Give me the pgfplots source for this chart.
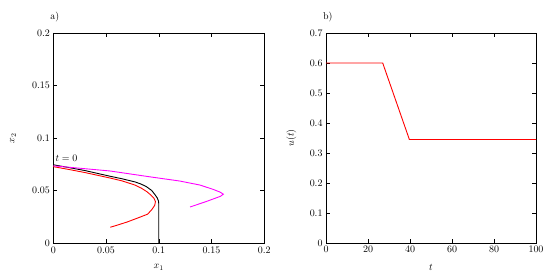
\documentclass[border=0pt]{standalone}
\usepackage{pgfplots}
\pgfplotsset{compat=1.18}
\definecolor{mag}{rgb}{1,0,1}
\begin{document}
\begin{tikzpicture}
\path[use as bounding box] (0,0) rectangle (552bp,279bp);
\pgfplotsset{every axis/.append style={scale only axis, axis line style={line width=0.8pt}, tick style={line width=0.6pt, black}, major tick length=4bp, minor tick num=0}}
\begin{axis}[at={(53.3bp,36bp)}, anchor=south west, width=211bp, height=210bp,
  xmin=0, xmax=0.2, ymin=0, ymax=0.2,
  xtick={0,0.05,0.1,0.15,0.2}, ytick={0,0.05,0.1,0.15,0.2},
  xticklabels={0,0.05,0.1,0.15,0.2}, yticklabels={0,0.05,0.1,0.15,0.2},
  xlabel={$x_1$}, ylabel={$x_2$},
  xlabel style={at={(0.5,0)}, anchor=north, yshift=-18bp},
  ylabel style={at={(0,0.5)}, anchor=south, yshift=34bp},
  clip=false]
\addplot[black, line width=0.9pt] coordinates {
(0,0.0745) (0.015,0.0718) (0.03,0.0690) (0.0537,0.0636) (0.065,0.0612) (0.0774,0.0582) (0.0835,0.0560) (0.0885,0.0535) (0.0933,0.0500) (0.0964,0.0460) (0.0985,0.0430) (0.0997,0.0400) (0.1,0.037) (0.1,0)};
\addplot[red, line width=0.9pt] coordinates {
(0,0.0727) (0.015,0.0700) (0.03,0.0671) (0.0537,0.0619) (0.065,0.0592) (0.0774,0.0552) (0.0835,0.0522) (0.0885,0.0490) (0.0925,0.0457) (0.0955,0.0425) (0.0968,0.0395) (0.0962,0.0360) (0.0935,0.0320) (0.0895,0.0275) (0.080,0.0238) (0.070,0.0200) (0.060,0.0168) (0.054,0.0150)};
\addplot[mag, line width=0.9pt] coordinates {
(0,0.0735) (0.0537,0.0686) (0.0917,0.0630) (0.12,0.0590) (0.139,0.0552) (0.1517,0.0510) (0.158,0.0485) (0.1612,0.0465) (0.1585,0.0445) (0.145,0.0395) (0.1296,0.0343)};
\node[anchor=south west, inner sep=0pt] at (axis cs:0.002,0.0775) {$t=0$};
\node[anchor=west, inner sep=0pt] at (rel axis cs:-0.015,1.075) {a)};
\end{axis}
\begin{axis}[at={(326bp,36bp)}, anchor=south west, width=210bp, height=210bp,
  xmin=0, xmax=100, ymin=0, ymax=0.7,
  xtick={0,20,40,60,80,100}, ytick={0,0.1,0.2,0.3,0.4,0.5,0.6,0.7},
  yticklabels={0,0.1,0.2,0.3,0.4,0.5,0.6,0.7},
  xlabel={$t$}, ylabel={$u(t)$},
  xlabel style={at={(0.5,0)}, anchor=north, yshift=-18bp},
  ylabel style={at={(0,0.5)}, anchor=south, yshift=26bp},
  clip=false]
\addplot[red, line width=0.9pt] coordinates {(0,0.6) (27,0.6) (39.7,0.345) (100,0.345)};
\node[anchor=west, inner sep=0pt] at (rel axis cs:-0.015,1.075) {b)};
\end{axis}
\end{tikzpicture}
\end{document}
